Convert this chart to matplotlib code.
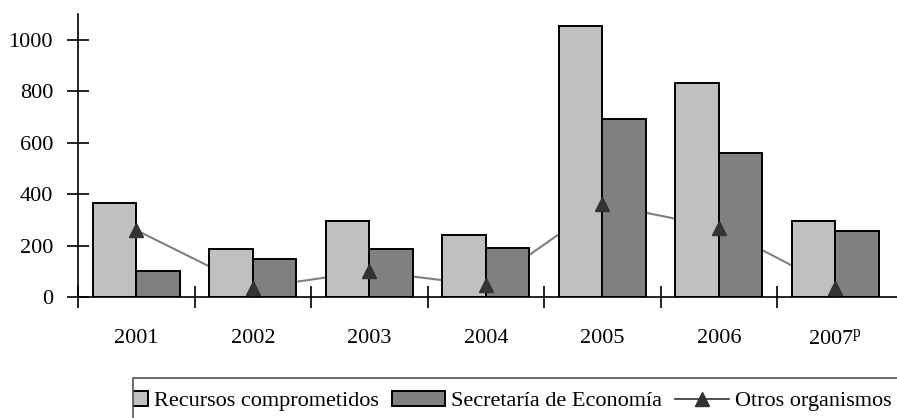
import numpy as np
import matplotlib
matplotlib.use("Agg")
import matplotlib.pyplot as plt
from matplotlib.patches import Rectangle, Patch
from matplotlib.lines import Line2D

plt.rcParams['font.family'] = ['Liberation Serif', 'DejaVu Serif']
plt.rcParams['mathtext.default'] = 'regular'

# data
years = ["2001", "2002", "2003", "2004", "2005", "2006", "2007$^{p}$"]
recursos = [365, 187, 295, 240, 1055, 830, 295]
secretaria = [101, 148, 187, 192, 690, 560, 256]
otros = [260, 35, 100, 45, 362, 270, 35]

light = "#c0c0c0"
dark = "#808080"

fig = plt.figure(figsize=(8.97, 4.18), dpi=100)
ax = fig.add_axes([78 / 897, 121 / 418, 1 - 78 / 897, 283 / 418])

x = np.arange(len(years))
w = 0.375
ax.bar(x - w / 2, recursos, w, color=light, edgecolor="black", linewidth=1.4, zorder=2)
ax.bar(x + w / 2, secretaria, w, color=dark, edgecolor="black", linewidth=1.4, zorder=2)
ax.plot(x, otros, color="#808080", linewidth=1.5, zorder=1)
ax.plot(x, otros, linestyle="none", marker="^", markersize=10, color="#333333", zorder=3)

ax.set_xlim(-0.5, 6.5 + 0.03)
ax.set_ylim(0, 1100)

ax.spines["top"].set_visible(False)
ax.spines["right"].set_visible(False)
ax.spines["left"].set_linewidth(1.2)
ax.spines["bottom"].set_linewidth(1.2)

ax.set_yticks([0, 200, 400, 600, 800, 1000])
ax.tick_params(axis="y", direction="inout", length=16, width=1.2, labelsize=16, pad=10)

ax.set_xticks(np.arange(-0.5, 6.5, 1.0))
ax.set_xticklabels([])
ax.tick_params(axis="x", which="major", direction="inout", length=16, width=1.2)
ax.set_xticks(x, minor=True)
ax.set_xticklabels(years, minor=True)
ax.tick_params(axis="x", which="minor", length=0, labelsize=16, pad=23)

handles = [
    Patch(facecolor=light, edgecolor="black", linewidth=1.4),
    Patch(facecolor=dark, edgecolor="black", linewidth=1.4),
    Line2D([], [], color="#333333", marker="^", markersize=10, linewidth=1.2),
]
labels = ["Recursos comprometidos", "Secretaría de Economía", "Otros organismos"]
fig.legend(handles, labels, loc="center left", bbox_to_anchor=(95 / 897, 1 - 401 / 418),
           ncol=3, frameon=False, fontsize=16, handlelength=2.4, handletextpad=0.27,
           columnspacing=0.58, borderaxespad=0, borderpad=0)

# legend box is cut at its left edge and runs off the figure
fig.add_artist(Rectangle((0, 0), 133 / 897, 1 - 378 / 418, transform=fig.transFigure,
                         facecolor="white", edgecolor="none", zorder=10))
fig.add_artist(Rectangle((133 / 897, -0.1), 1.0, 1 - 378 / 418 + 0.1,
                         transform=fig.transFigure, fill=False,
                         edgecolor="#555555", linewidth=1.2, zorder=11))

fig.savefig("out.png", dpi=100)
